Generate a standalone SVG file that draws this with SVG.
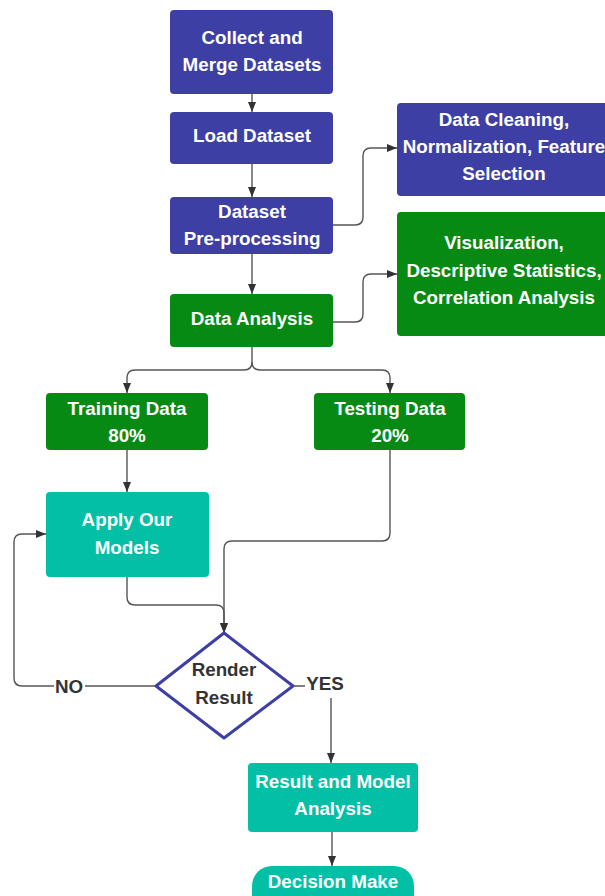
<svg xmlns="http://www.w3.org/2000/svg" width="605" height="896" viewBox="0 0 605 896">
<style>
.blue{fill:#3e3fa5}
.green{fill:#078a14}
.teal{fill:#03bfa6}
.t{font-family:"Liberation Sans",Arial,sans-serif;font-weight:bold;font-size:18.8px;fill:#fff;text-anchor:middle}
.lbl{font-family:"Liberation Sans",Arial,sans-serif;font-weight:bold;font-size:18.8px;fill:#333;text-anchor:middle}
.c{fill:none;stroke:#555;stroke-width:1.4}
</style>
<defs>
<marker id="ah" markerUnits="userSpaceOnUse" markerWidth="10" markerHeight="10" refX="10" refY="5" orient="auto">
<path d="M0,1 L10,5 L0,9 z" fill="#333"/>
</marker>
</defs>
<rect width="605" height="896" fill="#fff"/>
<g id="connectors">
<path class="c" d="M252,94 L252,112" marker-end="url(#ah)"/>
<path class="c" d="M252,164 L252,197" marker-end="url(#ah)"/>
<path class="c" d="M252,254 L252,294" marker-end="url(#ah)"/>
<path class="c" d="M333,225 L355,225 Q363,225 363,217 L363,156 Q363,148 371,148 L397,148" marker-end="url(#ah)"/>
<path class="c" d="M333,322 L355,322 Q363,322 363,314 L363,282 Q363,274 371,274 L397,274" marker-end="url(#ah)"/>
<path class="c" d="M252,347 L252,362 Q252,370 244,370 L135,370 Q127,370 127,378 L127,393" marker-end="url(#ah)"/>
<path class="c" d="M252,362 Q252,370 260,370 L382,370 Q390,370 390,378 L390,393" marker-end="url(#ah)"/>
<path class="c" d="M127,450 L127,492" marker-end="url(#ah)"/>
<path class="c" d="M127,577 L127,597 Q127,605 135,605 L216,605 Q224,605 224,613 L224,633" marker-end="url(#ah)"/>
<path class="c" d="M390,450 L390,533 Q390,541 382,541 L232,541 Q224,541 224,549 L224,633" marker-end="url(#ah)"/>
<path class="c" d="M156,686 L22,686 Q14,686 14,678 L14,542 Q14,534 22,534 L46,534" marker-end="url(#ah)"/>
<path class="c" d="M293,686 L331,686 L331,763" marker-end="url(#ah)"/>
<path class="c" d="M332,832 L332,866" marker-end="url(#ah)"/>
<rect x="54" y="674" width="31" height="24" fill="#fff"/>
<text class="lbl" x="69" y="693">NO</text>
<rect x="305" y="672" width="40" height="26" fill="#fff"/>
<text class="lbl" x="325" y="690">YES</text>
</g>
<g id="collect">
<rect class="blue" x="170" y="10" width="163" height="84" rx="4"/>
<text class="t" x="252" y="44">Collect and</text>
<text class="t" x="252" y="71">Merge Datasets</text>
</g>
<g id="load">
<rect class="blue" x="170" y="112" width="163" height="52" rx="4"/>
<text class="t" x="252" y="142">Load Dataset</text>
</g>
<g id="preprocessing">
<rect class="blue" x="170" y="197" width="163" height="57" rx="4"/>
<text class="t" x="252" y="218">Dataset</text>
<text class="t" x="252" y="245">Pre-processing</text>
</g>
<g id="cleaning">
<rect class="blue" x="397" y="103" width="215" height="93" rx="4"/>
<text class="t" x="504" y="126">Data Cleaning,</text>
<text class="t" x="504" y="153">Normalization, Feature</text>
<text class="t" x="504" y="180">Selection</text>
</g>
<g id="analysis">
<rect class="green" x="170" y="294" width="163" height="53" rx="4"/>
<text class="t" x="252" y="325">Data Analysis</text>
</g>
<g id="visualization">
<rect class="green" x="397" y="212" width="215" height="124" rx="4"/>
<text class="t" x="504" y="249">Visualization,</text>
<text class="t" x="504" y="277">Descriptive Statistics,</text>
<text class="t" x="504" y="304">Correlation Analysis</text>
</g>
<g id="training">
<rect class="green" x="46" y="393" width="162" height="57" rx="4"/>
<text class="t" x="127" y="415">Training Data</text>
<text class="t" x="127" y="442">80%</text>
</g>
<g id="testing">
<rect class="green" x="314" y="393" width="151" height="57" rx="4"/>
<text class="t" x="390" y="415">Testing Data</text>
<text class="t" x="390" y="442">20%</text>
</g>
<g id="apply">
<rect class="teal" x="46" y="492" width="163" height="85" rx="4"/>
<text class="t" x="127" y="526">Apply Our</text>
<text class="t" x="127" y="554">Models</text>
</g>
<g id="render">
<polygon points="224,633 293,686 224,738 156,686" fill="#fff" stroke="#3e3fa5" stroke-width="3" stroke-linejoin="round"/>
<text class="lbl" x="224" y="676">Render</text>
<text class="lbl" x="224" y="704">Result</text>
</g>
<g id="result">
<rect class="teal" x="248" y="763" width="170" height="69" rx="4"/>
<text class="t" x="333" y="788">Result and Model</text>
<text class="t" x="333" y="815">Analysis</text>
</g>
<g id="decision">
<rect class="teal" x="252" y="866" width="162" height="48" rx="20"/>
<text class="t" x="333" y="888">Decision Make</text>
</g>
</svg>
